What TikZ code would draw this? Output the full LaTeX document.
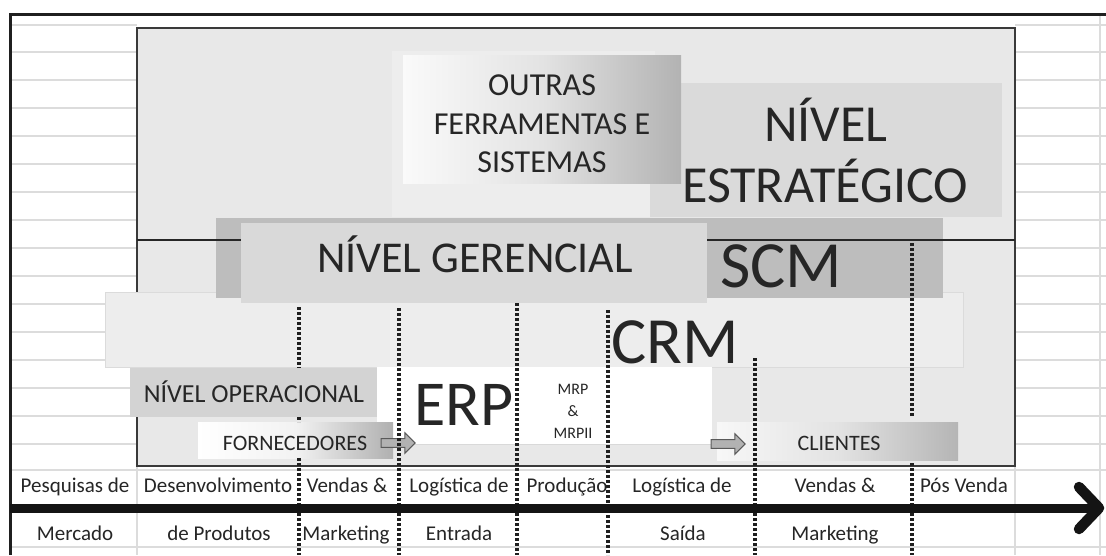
\documentclass[tikz,border=0pt]{standalone}
\usepackage{fontspec}
\setmainfont{Carlito}
\usetikzlibrary{shapes.arrows}
\definecolor{txt}{HTML}{262626}
\definecolor{mainbg}{HTML}{E8E8E8}
\definecolor{boxframe}{HTML}{3A3A3A}
\definecolor{estr}{HTML}{DADADA}
\definecolor{scmc}{HTML}{BDBDBD}
\definecolor{gerc}{HTML}{D9D9D9}
\definecolor{crmc}{HTML}{EDEDED}
\definecolor{operc}{HTML}{D3D3D3}
\definecolor{gridc}{HTML}{DCDCDC}
\definecolor{glowc}{HTML}{EDEDED}
\tikzset{
  lbl/.style={text=txt, inner sep=0pt, anchor=base},
  gridline/.style={draw=gridc, line width=1.4pt},
  dotline/.style={draw=black!88, line width=3.2pt, dash pattern=on 2.8pt off 2.2pt},
  blockarrow/.style={single arrow, draw=black!65, fill=gray!60, line width=1pt,
    minimum height=34pt, inner sep=3.8pt, single arrow head extend=6pt, single arrow head indent=0pt},
  axisline/.style={draw=black!92, line width=9pt},
}
\begin{document}
\begin{tikzpicture}[x=1pt,y=-1pt]
\useasboundingbox (0,0) rectangle (1106,555);
\fill[white] (0,0) rectangle (1106,555);
% spreadsheet grid
\foreach \y in {25,52,80,...,444}{
  \draw[gridline] (10,\y) -- (137,\y);
  \draw[gridline] (1015,\y) -- (1106,\y);
}
\draw[gridline] (10,470) -- (1106,470);
\draw[gridline] (10,547) -- (1106,547);
\draw[gridline] (137,466) -- (137,555);
\draw[gridline] (1015,466) -- (1015,555);
\draw[gridline] (1100,14) -- (1100,555);
% outer frame
\draw[draw=black!88, line width=3pt] (10,555) -- (10,14) -- (1106,14);
% main box
\draw[fill=mainbg, draw=boxframe, line width=2.6pt] (137,28) rectangle (1015,466);
% strategic area shapes
\fill[glowc] (392,51) rectangle (655,217);
\fill[estr] (650,83) rectangle (1002,217);
\shade[left color=gray!4, right color=gray!60, middle color=gray!22] (403,55) rectangle (681,183);
% CRM band
\draw[fill=crmc, draw=gray!28, line width=0.8pt] (105,292) rectangle (963,367);
% SCM band
\fill[scmc] (216,218) rectangle (943,298);
\draw[draw=black!85, line width=2.4pt] (137,240) -- (1015,240);
\draw[dotline] (912,243) -- (912,417);
% gerencial
\fill[gerc] (241,223) rectangle (707,303);
% operational area
\fill[white] (377,367) rectangle (712,444);
\draw[draw=gray!30, line width=0.6pt] (377,444) -- (712,444);
\fill[operc] (130,368) rectangle (377,417);
\shade[left color=white, right color=gray!62, middle color=gray!10] (198,422) rectangle (393,458);
\shade[left color=gray!6, right color=gray!58, middle color=gray!22] (717,422) rectangle (958,460);
\node[blockarrow] (farrow) at (396,443) {};
\node[blockarrow] (carrow) at (726,444) {};
% dotted column lines
\draw[dotline] (299,307) -- (299,368);
\draw[dotline] (299,417) -- (299,422);
\draw[dotline] (299,458) -- (299,555);
\draw[dotline] (399,308) -- (399,555);
\draw[dotline] (517,303) -- (517,555);
\draw[dotline] (608,310) -- (608,555);
\draw[dotline] (755,358) -- (755,555);
\draw[dotline] (912,463) -- (912,555);
% time axis
\coordinate (axstart) at (10,508);
\coordinate (axend) at (1099,508);
\draw[axisline] (axstart) -- (axend);
\draw[draw=black!92, line width=10.5pt, line cap=round, line join=round] (1079,487) -- (axend) -- (1079,529);
% texts
\node[lbl, font=\fontsize{32}{36}\selectfont] (o1) at (542,95) {OUTRAS};
\node[lbl, font=\fontsize{32}{36}\selectfont] (o2) at (542,134) {FERRAMENTAS E};
\node[lbl, font=\fontsize{32}{36}\selectfont] (o3) at (542,172) {SISTEMAS};
\node[lbl, font=\fontsize{52}{58}\selectfont] (e1) at (826,141) {NÍVEL};
\node[lbl, font=\fontsize{52}{58}\selectfont] (e2) at (825,202) {ESTRATÉGICO};
\node[lbl, font=\fontsize{44}{52}\selectfont] (ger) at (475,272) {NÍVEL GERENCIAL};
\node[lbl, font=\fontsize{66}{70}\selectfont] (scm) at (781,287) {SCM};
\node[lbl, font=\fontsize{66}{70}\selectfont] (crm) at (675,363) {CRM};
\node[lbl, font=\fontsize{64}{70}\selectfont] (erp) at (464,425) {ERP};
\node[lbl, font=\fontsize{26}{30}\selectfont] (oper) at (254,402) {NÍVEL OPERACIONAL};
\node[lbl, font=\fontsize{16}{18}\selectfont] (m1) at (573,394) {MRP};
\node[lbl, font=\fontsize{16}{18}\selectfont] (m2) at (573,416) {\&};
\node[lbl, font=\fontsize{16}{18}\selectfont] (m3) at (573,438) {MRPII};
\node[lbl, font=\fontsize{22}{24}\selectfont] (forn) at (295,450) {FORNECEDORES};
\node[lbl, font=\fontsize{22}{24}\selectfont] (cli) at (839,450) {CLIENTES};
% axis labels
\begin{scope}[every node/.style={lbl, font=\fontsize{21}{24}\selectfont}]
\node (a1) at (75,492) {Pesquisas de};
\node (a2) at (75,540) {Mercado};
\node (b1) at (218,492) {Desenvolvimento};
\node (b2) at (219,540) {de Produtos};
\node (c1) at (347,492) {Vendas \&};
\node (c2) at (346,540) {Marketing};
\node (d1) at (459,492) {Logística de};
\node (d2) at (459,540) {Entrada};
\node (p1) at (567,492) {Produção};
\node (f1) at (682,492) {Logística de};
\node (f2) at (683,540) {Saída};
\node (g1) at (835,492) {Vendas \&};
\node (g2) at (835,540) {Marketing};
\node (h1) at (964,492) {Pós Venda};
\end{scope}
\end{tikzpicture}
\end{document}
